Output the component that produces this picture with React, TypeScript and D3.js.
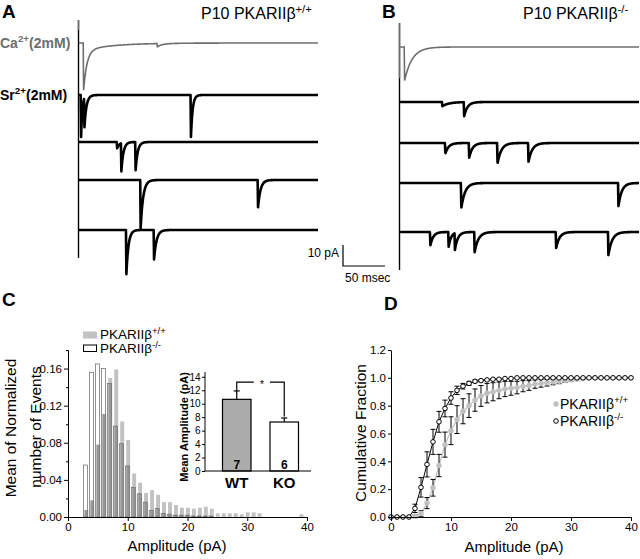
import React, { useRef, useEffect } from 'react';
import * as d3 from 'd3';

const W = 640;
const H = 559;
const FONT = "'Liberation Sans', Arial, Helvetica, sans-serif";

// ---- A / B sweeps: each event = [onset (ms), amplitude (pA), decay tau (ms)]
const sweepMs = 285;
const caEventsWT = [[5, 19, 4], [5, 3.5, 35], [93, 1.5, 6]];
const srEventsWT = [
  [[2, 20, 1.5], [6, 14, 2.5], [133, 20, 2]],
  [[45, 3, 3], [50, 13.4, 2.5], [67, 13.4, 2.5]],
  [[73, 23, 3], [213, 13, 3]],
  [[56, 21, 2.5], [89, 14, 3]],
];
const caEventsKO = [[5, 16, 9]];
const srEventsKO = [
  [[50, 2, 8], [76, 6.7, 4]],
  [[53.6, 5, 4], [82, 7, 4], [115.8, 9.8, 4.5], [152.7, 9, 4.5]],
  [[72.6, 12, 4.5], [260, 11, 4]],
  [[35.7, 6.4, 3.5], [57.5, 7, 3], [65, 8, 3.5], [88.5, 9.6, 4.5], [185.7, 7.7, 4], [248, 11, 4.5]],
];

// ---- C histogram (bin centre in pA, mean normalized count)
const histBins = [3, 4, 5, 6, 7, 8, 9, 10, 11, 12, 13, 14, 15, 16, 17, 18, 19, 20, 21, 22, 23, 24, 25, 26, 27, 28, 29, 30, 31, 32, 33, 34, 35, 36, 37, 38, 39];
const histWT = [0.0075, 0.018, 0.078, 0.111, 0.150, 0.159, 0.103, 0.083, 0.047, 0.037, 0.026, 0.029, 0.024, 0.016, 0.016, 0.013, 0.010, 0.010, 0.009, 0.010, 0.011, 0.009, 0.004, 0.004, 0.004, 0.004, 0.003, 0.005, 0.005, 0.004, 0, 0, 0, 0, 0, 0, 0.003];
const histKO = [0.056, 0.156, 0.165, 0.160, 0.144, 0.098, 0.079, 0.055, 0.032, 0.025, 0.016, 0.007, 0.009, 0.004, 0.003, 0.002, 0.002, 0.002, 0.001, 0.001, 0.001, 0.001, 0, 0, 0, 0, 0, 0, 0, 0, 0, 0, 0, 0, 0, 0, 0];

// ---- C inset
const groups = ['WT', 'KO'];
const groupMean = [10.65, 7.28];
const groupSem = [1.25, 0.6];
const groupN = ['7', '6'];

// ---- D cumulative
const cumAmp = [0, 1, 2, 3, 4, 5, 6, 7, 8, 9, 10, 11, 12, 13, 14, 15, 16, 17, 18, 19, 20, 21, 22, 23, 24, 25, 26, 27, 28, 29, 30, 31, 32, 33, 34, 35, 36, 37, 38, 39, 40];
const cumWT = [0, 0, 0, 0, 0.005, 0.025, 0.10, 0.21, 0.37, 0.52, 0.62, 0.70, 0.76, 0.80, 0.84, 0.87, 0.89, 0.90, 0.91, 0.92, 0.925, 0.93, 0.94, 0.945, 0.955, 0.96, 0.965, 0.97, 0.975, 0.98, 0.985, 0.99, 0.995, 1, 1, 1, 1, 1, 1, 1, 1];
const semWT = [0, 0, 0, 0, 0.01, 0.02, 0.04, 0.06, 0.08, 0.09, 0.10, 0.10, 0.09, 0.085, 0.08, 0.075, 0.07, 0.065, 0.06, 0.055, 0.05, 0.045, 0.04, 0.035, 0.03, 0.027, 0.024, 0.02, 0.017, 0.013, 0.009, 0.005, 0.003, 0, 0, 0, 0, 0, 0, 0, 0];
const cumKO = [0, 0, 0, 0, 0.062, 0.213, 0.378, 0.54, 0.684, 0.78, 0.855, 0.91, 0.94, 0.96, 0.975, 0.98, 0.985, 0.99, 0.99, 0.995, 0.995, 1, 1, 1, 1, 1, 1, 1, 1, 1, 1, 1, 1, 1, 1, 1, 1, 1, 1, 1, 1];
const semKO = [0, 0, 0, 0, 0.03, 0.07, 0.09, 0.09, 0.075, 0.06, 0.045, 0.03, 0.02, 0.015, 0.01, 0.008, 0.005, 0.004, 0.003, 0, 0, 0, 0, 0, 0, 0, 0, 0, 0, 0, 0, 0, 0, 0, 0, 0, 0, 0, 0, 0, 0];

type Sel = d3.Selection<any, any, any, any>;

function richText(parent: Sel, x: number, y: number, parts: [string, boolean][], size: number, opts: any = {}) {
  const supSize = opts.supSize ?? size * 0.7;
  const lift = opts.lift ?? 0.4;
  const txt = parent.append('text')
    .attr('x', x).attr('y', y)
    .attr('font-size', size)
    .attr('font-weight', opts.weight ?? 'normal')
    .attr('fill', opts.fill ?? '#000')
    .attr('text-anchor', opts.anchor ?? 'start');
  let raised = false;
  parts.forEach(([s, sup]) => {
    const ts = txt.append('tspan').text(s);
    if (sup) {
      ts.attr('font-size', supSize);
      if (!raised) { ts.attr('dy', -size * lift); raised = true; }
    } else if (raised) {
      ts.attr('dy', size * lift);
      raised = false;
    }
  });
  return txt;
}

// vertical label, rotated about its own anchor point
function vText(parent: Sel, x: number, y: number, s: string, size: number, weight = 'normal') {
  parent.append('text')
    .attr('x', x).attr('y', y)
    .attr('transform', `rotate(-90 ${x} ${y})`)
    .attr('text-anchor', 'middle')
    .attr('font-size', size).attr('font-weight', weight).attr('fill', '#000').text(s);
}

function current(t: number, events: number[][]) {
  let s = 0;
  for (const [t0, a, tau] of events) {
    const dt = t - t0;
    if (dt < 0) continue;
    s += dt < 0.5 ? a * dt / 0.5 : a * Math.exp(-(dt - 0.5) / tau);
  }
  return s;
}

function styleAxis(g: Sel, size: number) {
  g.attr('font-family', FONT).attr('font-size', size);
  g.selectAll('path, line').attr('stroke', '#000').attr('stroke-width', 1);
  g.selectAll('text').attr('fill', '#000');
}

const App: React.FC = () => {
  const ref = useRef<SVGSVGElement | null>(null);

  useEffect(() => {
    if (!ref.current) return;
    const svg = d3.select(ref.current);
    svg.selectAll('*').remove();
    svg.attr('font-family', FONT);

    // Panel letters
    [['A', 2, 18], ['B', 382, 18], ['C', 2, 306], ['D', 384, 310]].forEach(([l, x, y]) => {
      svg.append('text').attr('x', x).attr('y', y).attr('font-size', 19)
        .attr('font-weight', 'bold').text(l as string);
    });

    // ---------- A / B traces ----------
    const pA = d3.scaleLinear().domain([0, 10]).range([0, 21]);
    const tSamples = d3.range(0, sweepMs + 0.001, 0.25);
    const panels = [
      { x: d3.scaleLinear().domain([0, sweepMs]).range([79, 318]), rows: [43, 95, 142, 180, 230], ca: caEventsWT, sr: srEventsWT, artTop: 20, artBot: 258, grayBot: 30 },
      { x: d3.scaleLinear().domain([0, sweepMs]).range([400, 639]), rows: [47, 102, 143, 183, 232], ca: caEventsKO, sr: srEventsKO, artTop: 23, artBot: 270, grayBot: 78 },
    ];

    panels.forEach(p => {
      const xs = p.x;
      const ax = xs(0) - 0.5;
      svg.append('line').attr('x1', ax).attr('x2', ax).attr('y1', p.artTop).attr('y2', p.artBot)
        .attr('stroke', '#000').attr('stroke-width', 1.4);
      svg.append('line').attr('x1', ax).attr('x2', ax).attr('y1', p.artTop).attr('y2', p.grayBot)
        .attr('stroke', '#6e6e6e').attr('stroke-width', 1.4);

      const mk = (base: number, ev: number[][]) => d3.line<number>()
        .x(t => xs(t))
        .y(t => base + pA(current(t, ev)))(tSamples);

      svg.append('path').attr('d', mk(p.rows[0], p.ca)).attr('fill', 'none')
        .attr('stroke', '#6e6e6e').attr('stroke-width', 1.6);
      p.sr.forEach((ev, i) => {
        svg.append('path').attr('d', mk(p.rows[i + 1], ev)).attr('fill', 'none')
          .attr('stroke', '#000').attr('stroke-width', 2.6).attr('stroke-linejoin', 'round');
      });
    });

    richText(svg, 0, 48, [['Ca', false], ['2+', true], ['(2mM)', false]], 14, { weight: 'bold', fill: '#6e6e6e' });
    richText(svg, 0, 100, [['Sr', false], ['2+', true], ['(2mM)', false]], 14, { weight: 'bold' });
    richText(svg, 201, 19, [['P10 PKARIIβ', false], ['+/+', true]], 16);
    richText(svg, 523, 19, [['P10 PKARIIβ', false], ['-/-', true]], 16);

    // scale bar
    const sbX = 343;
    const sbY = 266;
    const sbLen = panels[0].x(50) - panels[0].x(0);
    svg.append('path')
      .attr('d', `M${sbX},${sbY - pA(10)}V${sbY}H${sbX + sbLen}`)
      .attr('fill', 'none').attr('stroke', '#000').attr('stroke-width', 1.2);
    svg.append('text').attr('x', sbX - 4).attr('y', sbY - 9).attr('font-size', 12)
      .attr('text-anchor', 'end').text('10 pA');
    svg.append('text').attr('x', sbX + 2).attr('y', sbY + 16).attr('font-size', 12).text('50 msec');

    // ---------- C histogram ----------
    const xC = d3.scaleLinear().domain([0, 40]).range([68, 307]);
    const yC = d3.scaleLinear().domain([0, 0.18]).range([517, 350]);
    const hw = 0.33;
    const off = 0.07;
    const gC = svg.append('g');
    histBins.forEach((b, i) => {
      const wt = histWT[i];
      const ko = histKO[i];
      const wx0 = xC(b - hw + off), wx1 = xC(b + hw + off);
      const kx0 = xC(b - hw - off), kx1 = xC(b + hw - off);
      if (wt > 0) gC.append('rect').attr('x', wx0).attr('width', wx1 - wx0)
        .attr('y', yC(wt)).attr('height', yC(0) - yC(wt)).attr('fill', '#c2c2c2');
      if (ko > 0) gC.append('rect').attr('x', kx0).attr('width', kx1 - kx0)
        .attr('y', yC(ko)).attr('height', yC(0) - yC(ko)).attr('fill', '#fff');
      const ov = Math.min(wt, ko);
      if (ov > 0) gC.append('rect').attr('x', wx0).attr('width', kx1 - wx0)
        .attr('y', yC(ov)).attr('height', yC(0) - yC(ov)).attr('fill', '#979797');
      if (ko > 0) gC.append('rect').attr('x', kx0).attr('width', kx1 - kx0)
        .attr('y', yC(ko)).attr('height', yC(0) - yC(ko)).attr('fill', 'none')
        .attr('stroke', '#666').attr('stroke-width', 0.7);
    });

    const yAxC = svg.append('g').attr('transform', `translate(${xC(0)},0)`)
      .call(d3.axisLeft(yC).tickValues([0, 0.04, 0.08, 0.12, 0.16]).tickFormat(d3.format('.2f')).tickSize(4).tickSizeOuter(0).tickPadding(2));
    styleAxis(yAxC, 11.5);
    const yMinC = svg.append('g').attr('transform', `translate(${xC(0)},0)`)
      .call(d3.axisLeft(yC).tickValues([0.02, 0.06, 0.10, 0.14, 0.18]).tickFormat(() => '').tickSize(2).tickSizeOuter(0));
    styleAxis(yMinC, 11.5);
    const xAxC = svg.append('g').attr('transform', `translate(0,${yC(0)})`)
      .call(d3.axisBottom(xC).tickValues([0, 10, 20, 30, 40]).tickSize(4).tickSizeOuter(0).tickPadding(2));
    styleAxis(xAxC, 11.5);

    vText(svg, 16, 428, 'Mean of Normalized', 15.5);
    vText(svg, 41, 427, 'number of Events', 15.5);
    svg.append('text').attr('x', 177).attr('y', 551).attr('text-anchor', 'middle')
      .attr('font-size', 15).text('Amplitude (pA)');

    // legend C
    svg.append('rect').attr('x', 83).attr('y', 331.5).attr('width', 14).attr('height', 7).attr('fill', '#c2c2c2');
    richText(svg, 100, 339, [['PKARIIβ', false], ['+/+', true]], 13.5, { supSize: 9.5, lift: 0.36 });
    svg.append('rect').attr('x', 83.5).attr('y', 345).attr('width', 13).attr('height', 6.5)
      .attr('fill', '#fff').attr('stroke', '#000').attr('stroke-width', 1);
    richText(svg, 100, 353, [['PKARIIβ', false], ['-/-', true]], 13.5, { supSize: 9.5, lift: 0.36 });

    // ---------- C inset ----------
    const xb = d3.scaleBand().domain(groups).range([213, 308]).paddingInner(0.4).paddingOuter(0.2);
    const yb = d3.scaleLinear().domain([0, 14]).range([471, 376.8]);
    groups.forEach((g, i) => {
      const x0 = xb(g) as number;
      const bw = xb.bandwidth();
      const cx = x0 + bw / 2;
      svg.append('line').attr('x1', cx).attr('x2', cx).attr('y1', yb(groupMean[i])).attr('y2', yb(groupMean[i] + groupSem[i]))
        .attr('stroke', '#000').attr('stroke-width', 1.2);
      svg.append('line').attr('x1', cx - 3).attr('x2', cx + 3).attr('y1', yb(groupMean[i] + groupSem[i])).attr('y2', yb(groupMean[i] + groupSem[i]))
        .attr('stroke', '#000').attr('stroke-width', 1.2);
      svg.append('rect').attr('x', x0).attr('width', bw).attr('y', yb(groupMean[i]))
        .attr('height', yb(0) - yb(groupMean[i])).attr('fill', i === 0 ? '#ababab' : '#fff')
        .attr('stroke', '#000').attr('stroke-width', 1.2);
      svg.append('text').attr('x', cx).attr('y', yb(0) - 2.5).attr('text-anchor', 'middle')
        .attr('font-size', 12).attr('font-weight', 'bold').text(groupN[i]);
      svg.append('text').attr('x', cx).attr('y', 488).attr('text-anchor', 'middle')
        .attr('font-size', 15).attr('font-weight', 'bold').text(g);
    });
    const yAxB = svg.append('g').attr('transform', `translate(205,0)`)
      .call(d3.axisLeft(yb).tickValues(d3.range(0, 15, 2)).tickSize(3).tickSizeOuter(0).tickPadding(1.5));
    styleAxis(yAxB, 10);
    yAxB.select('.domain').attr('d', `M-0,${yb(14.7)}V${yb(0)}`);
    svg.append('line').attr('x1', 205).attr('x2', 311).attr('y1', yb(0)).attr('y2', yb(0))
      .attr('stroke', '#000').attr('stroke-width', 1);
    vText(svg, 188, 427, 'Mean Amplitude (pA)', 11, 'bold');

    // significance bracket
    const cWT = (xb('WT') as number) + xb.bandwidth() / 2;
    const cKO = (xb('KO') as number) + xb.bandwidth() / 2;
    const yTop = yb(13.2);
    svg.append('path')
      .attr('d', `M${cWT},${yb(groupMean[0] + groupSem[0])}V${yTop}H${cWT + 17}M${xb('KO')},${yTop}H${cKO}V${yb(groupMean[1] + groupSem[1]) - 1.5}`)
      .attr('fill', 'none').attr('stroke', '#000').attr('stroke-width', 1.2);
    svg.append('text').attr('x', (cWT + cKO) / 2 + 1.5).attr('y', yTop + 6).attr('text-anchor', 'middle')
      .attr('font-size', 10).text('*');

    // ---------- D cumulative ----------
    const xD = d3.scaleLinear().domain([0, 40]).range([391, 631]);
    const yD = d3.scaleLinear().domain([0, 1.2]).range([517, 350]);
    const gD = svg.append('g');
    const lineD = (vals: number[]) => d3.line<number>().x((_, i) => xD(cumAmp[i])).y(v => yD(v))(vals);

    gD.append('path').attr('d', lineD(cumWT)).attr('fill', 'none').attr('stroke', '#c4c4c4').attr('stroke-width', 1.3);
    const errs = (vals: number[], sems: number[]) => {
      vals.forEach((v, i) => {
        const s = sems[i];
        if (s <= 0) return;
        const x = xD(cumAmp[i]);
        gD.append('path')
          .attr('d', `M${x},${yD(v - s)}V${yD(v + s)}M${x - 2.5},${yD(v + s)}H${x + 2.5}M${x - 2.5},${yD(v - s)}H${x + 2.5}`)
          .attr('fill', 'none').attr('stroke', '#000').attr('stroke-width', 1);
      });
    };
    errs(cumWT, semWT);
    cumWT.forEach((v, i) => {
      gD.append('circle').attr('cx', xD(cumAmp[i])).attr('cy', yD(v)).attr('r', 2.7).attr('fill', '#c0c0c0');
    });
    gD.append('path').attr('d', lineD(cumKO)).attr('fill', 'none').attr('stroke', '#000').attr('stroke-width', 1);
    errs(cumKO, semKO);
    cumKO.forEach((v, i) => {
      gD.append('circle').attr('cx', xD(cumAmp[i])).attr('cy', yD(v)).attr('r', 2.3)
        .attr('fill', '#fff').attr('stroke', '#000').attr('stroke-width', 1);
    });

    const yAxD = svg.append('g').attr('transform', `translate(${xD(0)},0)`)
      .call(d3.axisLeft(yD).tickValues([0, 0.2, 0.4, 0.6, 0.8, 1.0, 1.2]).tickFormat(d3.format('.1f')).tickSize(3).tickSizeOuter(0).tickPadding(2));
    styleAxis(yAxD, 11.5);
    const xAxD = svg.append('g').attr('transform', `translate(0,${yD(0)})`)
      .call(d3.axisBottom(xD).tickValues([0, 10, 20, 30, 40]).tickSize(4).tickSizeOuter(0).tickPadding(2));
    styleAxis(xAxD, 11.5);

    vText(svg, 366, 433, 'Cumulative Fraction', 15.5);
    svg.append('text').attr('x', 514).attr('y', 552).attr('text-anchor', 'middle')
      .attr('font-size', 15).text('Amplitude (pA)');

    // legend D
    svg.append('circle').attr('cx', 556).attr('cy', 404).attr('r', 2.7).attr('fill', '#c0c0c0');
    richText(svg, 560, 409, [['PKARIIβ', false], ['+/+', true]], 14);
    svg.append('circle').attr('cx', 556).attr('cy', 421).attr('r', 2.3).attr('fill', '#fff')
      .attr('stroke', '#000').attr('stroke-width', 1);
    richText(svg, 560, 426, [['PKARIIβ', false], ['-/-', true]], 14);
  }, []);

  return (
    <div style={{ position: 'absolute', left: 0, top: 0 }}>
      <svg ref={ref} width={W} height={H} style={{ display: 'block', background: '#fff' }} />
    </div>
  );
};

export default App;
